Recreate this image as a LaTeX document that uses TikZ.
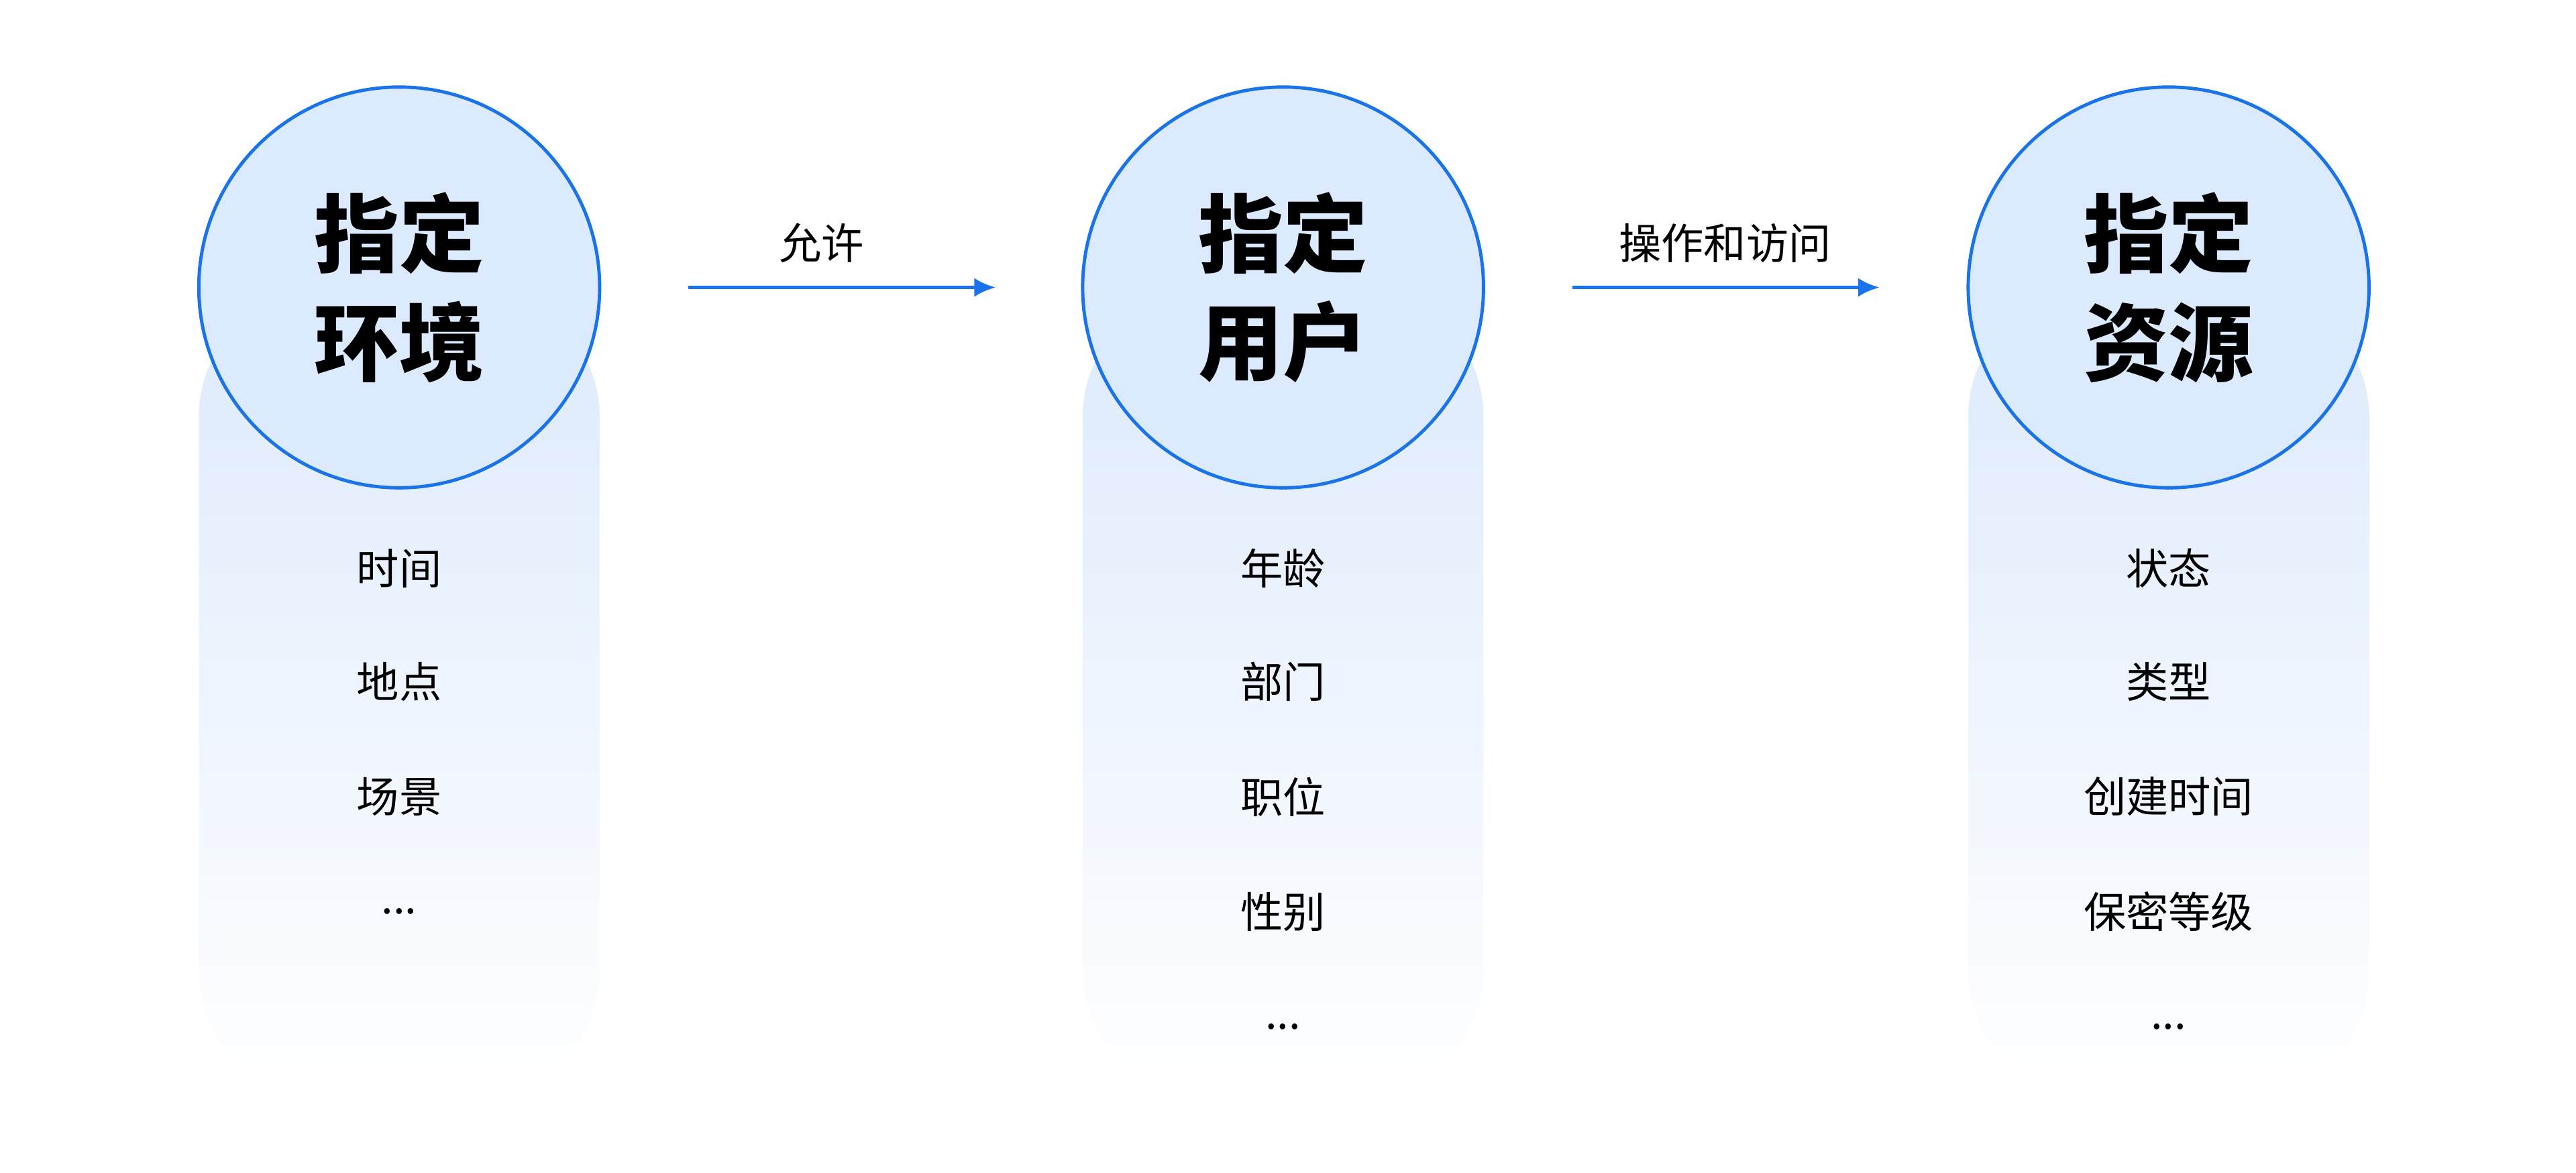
\documentclass[tikz,border=0pt]{standalone}
\usepackage{fontspec}
\usetikzlibrary{arrows.meta}
\newfontfamily\cjk{Noto Sans CJK SC}
\begin{document}
\begin{tikzpicture}[x=0.02449cm,y=-0.02449cm,
  circ/.style={circle, draw={rgb,255:red,26;green,115;blue,232}, line width=1.4pt, fill={rgb,255:red,219;green,234;blue,254}, minimum size=244*0.02449cm, inner sep=0pt},
  ttl/.style={font=\cjk\bfseries\fontsize{36}{46}\selectfont, align=center, text=black},
  item/.style={font=\cjk\fontsize{18}{22}\selectfont, text=black},
  arr/.style={draw={rgb,255:red,26;green,115;blue,232}, line width=1.4pt, -{Latex[length=9pt,width=8pt]}},
  lab/.style={font=\cjk\fontsize{18}{22}\selectfont, text=black}]
\useasboundingbox (0,0) rectangle (1568,714);
\definecolor{pillc}{RGB}{221,234,252}
\foreach \cx in {243,781,1320}{
  \shade[top color=pillc, bottom color=white, rounded corners=55] (\cx-122,175) rectangle (\cx+122,670);
}
\node[circ] (c1) at (243,175) {};
\node[circ] (c2) at (781,175) {};
\node[circ] (c3) at (1320,175) {};
\node[ttl] at (243,175) {指定\\环境};
\node[ttl] at (781,175) {指定\\用户};
\node[ttl] at (1320,175) {指定\\资源};
\coordinate (a1s) at (419,175); \coordinate (a1e) at (606,175);
\coordinate (a2s) at (957,175); \coordinate (a2e) at (1144,175);
\draw[arr] (a1s) -- (a1e);
\draw[arr] (a2s) -- (a2e);
\node[lab] at (500,148) {允许};
\node[lab] at (1050,148) {操作和访问};
\node[item] at (243,346) {时间};
\node[item] at (243,415) {地点};
\node[item] at (243,485) {场景};
\node[item] at (243,555) {...};
\node[item] at (781,346) {年龄};
\node[item] at (781,415) {部门};
\node[item] at (781,485) {职位};
\node[item] at (781,555) {性别};
\node[item] at (781,625) {...};
\node[item] at (1320,346) {状态};
\node[item] at (1320,415) {类型};
\node[item] at (1320,485) {创建时间};
\node[item] at (1320,555) {保密等级};
\node[item] at (1320,625) {...};
\end{tikzpicture}
\end{document}
